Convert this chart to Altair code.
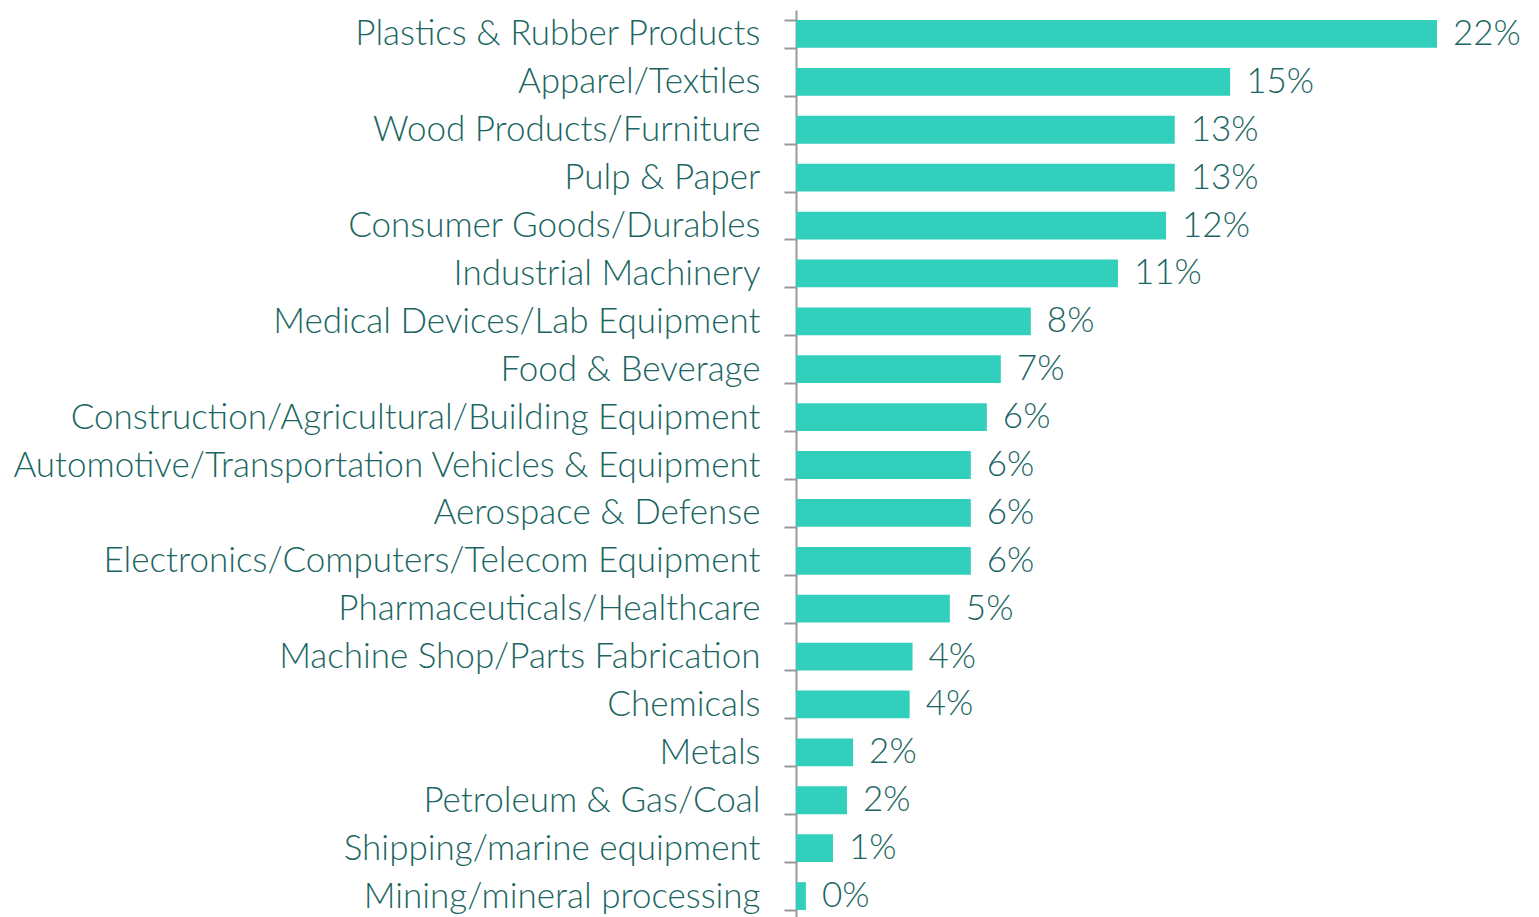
import altair as alt
import pandas as pd

categories = [
    "Plastics & Rubber Products",
    "Apparel/Textiles",
    "Wood Products/Furniture",
    "Pulp & Paper",
    "Consumer Goods/Durables",
    "Industrial Machinery",
    "Medical Devices/Lab Equipment",
    "Food & Beverage",
    "Construction/Agricultural/Building Equipment",
    "Automotive/Transportation Vehicles & Equipment",
    "Aerospace & Defense",
    "Electronics/Computers/Telecom Equipment",
    "Pharmaceuticals/Healthcare",
    "Machine Shop/Parts Fabrication",
    "Chemicals",
    "Metals",
    "Petroleum & Gas/Coal",
    "Shipping/marine equipment",
    "Mining/mineral processing",
]
values = [22.0, 14.9, 13.0, 13.0, 12.7, 11.05, 8.06, 7.03, 6.55, 6.0, 6.0, 6.0,
          5.28, 4.0, 3.9, 1.96, 1.75, 1.27, 0.34]
value_labels = ["22%", "15%", "13%", "13%", "12%", "11%", "8%", "7%", "6%", "6%",
                "6%", "6%", "5%", "4%", "4%", "2%", "2%", "1%", "0%"]

df = pd.DataFrame({"category": categories, "value": values, "label": value_labels})

FONT = "Lato"
TEXT_COLOR = "#1B6662"
BAR_COLOR = "#33CFBD"
FS = 35

y_enc = alt.Y(
    "category:N",
    sort=categories,
    title=None,
    scale=alt.Scale(paddingInner=0.42, paddingOuter=0.21),
    axis=alt.Axis(
        title=None,
        labelFont=FONT,
        labelFontSize=FS,
        labelFontWeight=300,
        labelColor=TEXT_COLOR,
        labelLimit=0,
        labelPadding=24,
        tickBand="extent",
        tickSize=12,
        tickColor="#999999",
        tickWidth=2,
        domainColor="#999999",
        domainWidth=2,
    ),
)
x_enc = alt.X("value:Q", title=None, scale=alt.Scale(domain=[0, 22], nice=False, zero=True), axis=None)

bars = alt.Chart(df).mark_bar(color=BAR_COLOR).encode(y=y_enc, x=x_enc)
text = alt.Chart(df).mark_text(
    align="left", baseline="middle", dx=16, font=FONT, fontSize=FS,
    fontWeight=300, color=TEXT_COLOR
).encode(y=alt.Y("category:N", sort=categories, title=None), x=x_enc, text="label:N")

chart = (bars + text).properties(
    width=641, height=910,
    autosize=alt.AutoSizeParams(type="none"),
    padding={"top": 2, "left": 788, "right": 90, "bottom": 0},
).configure_view(stroke=None).configure_axis(grid=False)

chart.save("out.html", embed_options={"renderer": "svg", "actions": False})
